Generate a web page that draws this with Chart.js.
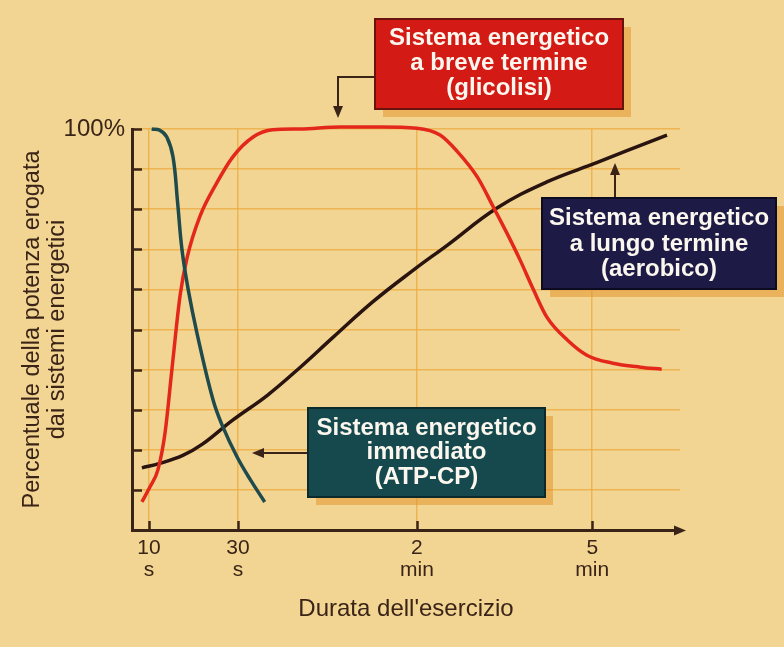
<!DOCTYPE html>
<html>
<head>
<meta charset="utf-8">
<script src="https://cdn.jsdelivr.net/npm/chart.js@4.4.0/dist/chart.umd.min.js"></script>
<style>
html,body{margin:0;padding:0;background:#f2d592;}
#wrap{width:784px;height:647px;}
</style>
</head>
<body>
<div id="wrap"><canvas id="c" width="784" height="647"></canvas></div>
<script>
// ---- data (x in axis position units: 10 s = 1, 30 s = 2, 2 min ≈ 4, 5 min ≈ 6) ----
const xTickPositions = [1, 2, 4.01, 5.98];
const xTickLabels = [["10", "s"], ["30", "s"], ["2", "min"], ["5", "min"]];
const yTickLabelTop = "100%";

const atpX = [1.03, 1.12, 1.20, 1.27, 1.32, 1.37, 1.44, 1.54, 1.72, 1.83, 1.99, 2.14, 2.30];
const atpY = [100, 99.7, 98, 93, 82, 70, 60, 49, 32.4, 25.7, 18.2, 12.5, 7];

const glyX = [0.92, 1.01, 1.10, 1.18, 1.26, 1.35, 1.43, 1.57, 1.76, 1.94, 2.17, 2.39, 2.70, 3.15, 3.60, 4.01, 4.27, 4.46, 4.69, 4.87, 5.02, 5.17, 5.32, 5.47, 5.70, 5.92, 6.21, 6.52, 6.76];
const glyY = [7, 10.7, 15, 24.2, 40.6, 58.6, 68.1, 78.1, 86.5, 93, 98, 99.8, 100, 100.5, 100.5, 100.2, 98.5, 94.5, 88, 80.5, 74.1, 67.3, 59.9, 53.1, 47.4, 43.6, 41.6, 40.6, 40.1];

const aerX = [0.92, 1.12, 1.38, 1.60, 1.94, 2.33, 2.70, 3.07, 3.52, 3.97, 4.35, 4.91, 5.47, 6.03, 6.37, 6.82];
const aerY = [15.5, 16.6, 18.6, 21.4, 27.4, 33.6, 40.6, 48.1, 57.0, 64.8, 71.0, 80.3, 86.8, 91.6, 94.6, 98.5];

const yTitle = ["Percentuale della potenza erogata", "dai sistemi energetici"];
const xTitle = "Durata dell'esercizio";
const boxGly = ["Sistema energetico", "a breve termine", "(glicolisi)"];
const boxAer = ["Sistema energetico", "a lungo termine", "(aerobico)"];
const boxAtp = ["Sistema energetico", "immediato", "(ATP-CP)"];

const FONT = "'Liberation Sans', Arial, Helvetica, sans-serif";
const INK = "#3a2417";

function pts(xs, ys) { return xs.map((x, i) => ({ x: x, y: ys[i] })); }

const bgPlugin = {
  id: 'bg',
  beforeDraw(chart) {
    const ctx = chart.ctx;
    ctx.save();
    ctx.fillStyle = '#f2d592';
    ctx.fillRect(0, 0, chart.width, chart.height);
    ctx.restore();
  }
};

function arrowHead(ctx, x, y, dir) {
  const L = 12, W = 5;
  ctx.beginPath();
  if (dir === 'down') { ctx.moveTo(x, y); ctx.lineTo(x - W, y - L); ctx.lineTo(x + W, y - L); }
  if (dir === 'up') { ctx.moveTo(x, y); ctx.lineTo(x - W, y + L); ctx.lineTo(x + W, y + L); }
  if (dir === 'left') { ctx.moveTo(x, y); ctx.lineTo(x + L, y - W); ctx.lineTo(x + L, y + W); }
  if (dir === 'right') { ctx.moveTo(x, y); ctx.lineTo(x - L, y - W); ctx.lineTo(x - L, y + W); }
  ctx.closePath();
  ctx.fill();
}

function drawBox(ctx, x0, y0, x1, y1, fill, border, lines, lineYs) {
  ctx.save();
  ctx.fillStyle = 'rgba(226,150,45,0.55)';
  ctx.fillRect(x0 + 8, y0 + 8, x1 - x0, y1 - y0);
  ctx.fillStyle = fill;
  ctx.fillRect(x0, y0, x1 - x0, y1 - y0);
  ctx.strokeStyle = border;
  ctx.lineWidth = 2;
  ctx.strokeRect(x0, y0, x1 - x0, y1 - y0);
  ctx.fillStyle = '#fbf6ee';
  ctx.font = "bold 24px " + FONT;
  ctx.textAlign = 'center';
  ctx.textBaseline = 'middle';
  const cx = (x0 + x1) / 2;
  lines.forEach((t, i) => ctx.fillText(t, cx, lineYs[i]));
  ctx.restore();
}

const annoPlugin = {
  id: 'anno',
  afterDraw(chart) {
    const ctx = chart.ctx;
    const xs = chart.scales.x, ys = chart.scales.y;
    const ca = chart.chartArea;
    ctx.save();
    ctx.strokeStyle = INK;
    ctx.fillStyle = INK;
    ctx.lineWidth = 2.5;
    for (let v = 10; v <= 100; v += 10) {
      const py = Math.round(ys.getPixelForValue(v)) + 0.5;
      ctx.beginPath(); ctx.moveTo(ca.left, py); ctx.lineTo(ca.left + 10, py); ctx.stroke();
    }
    xTickPositions.forEach(v => {
      const px = Math.round(xs.getPixelForValue(v)) + 0.5;
      ctx.beginPath(); ctx.moveTo(px, ca.bottom); ctx.lineTo(px, ca.bottom - 9); ctx.stroke();
    });
    ctx.beginPath(); ctx.moveTo(ca.right - 4, ca.bottom + 0.5); ctx.lineTo(ca.right + 2, ca.bottom + 0.5); ctx.stroke();
    arrowHead(ctx, ca.right + 6, ca.bottom + 0.5, 'right');

    ctx.lineWidth = 2;
    ctx.beginPath(); ctx.moveTo(375, 77); ctx.lineTo(338, 77); ctx.lineTo(338, 108); ctx.stroke();
    arrowHead(ctx, 338, 118, 'down');
    ctx.beginPath(); ctx.moveTo(615, 198); ctx.lineTo(615, 172); ctx.stroke();
    arrowHead(ctx, 615, 163, 'up');
    ctx.beginPath(); ctx.moveTo(308, 453); ctx.lineTo(262, 453); ctx.stroke();
    arrowHead(ctx, 252, 453, 'left');
    ctx.restore();

    drawBox(ctx, 375, 19, 623, 109, '#d41a15', '#6a120e', boxGly, [38, 63, 88]);
    drawBox(ctx, 542, 198, 776, 289, '#1d1b46', '#0c0b22', boxAer, [218, 244, 269]);
    drawBox(ctx, 308, 408, 545, 497, '#16494d', '#0b2a2c', boxAtp, [428, 452, 477]);
  }
};

new Chart(document.getElementById('c'), {
  type: 'line',
  data: {
    datasets: [
      { data: pts(atpX, atpY), borderColor: '#1f4b4d', clip: false, tension: 0.4, cubicInterpolationMode: 'default' },
      { data: pts(glyX, glyY), borderColor: '#e3281b', clip: false, cubicInterpolationMode: 'monotone' },
      { data: pts(aerX, aerY), borderColor: '#2a1410', clip: false, tension: 0.4, cubicInterpolationMode: 'default' }
    ]
  },
  options: {
    responsive: false,
    animation: false,
    devicePixelRatio: 1,
    layout: { padding: { top: 129, right: 104, left: 0, bottom: 0 } },
    plugins: { legend: { display: false }, tooltip: { enabled: false } },
    elements: {
      point: { radius: 0 },
      line: { borderWidth: 3.5, fill: false }
    },
    scales: {
      x: {
        type: 'linear',
        min: 0.809,
        max: 6.966,
        afterBuildTicks(s) { s.ticks = xTickPositions.map(v => ({ value: v })); },
        afterFit(s) { s.height = 117; },
        ticks: {
          callback: (v, i) => xTickLabels[i],
          font: { family: FONT, size: 21, lineHeight: 1.05 },
          color: INK,
          padding: 7,
          maxRotation: 0,
          autoSkip: false
        },
        grid: { color: 'rgba(236,168,60,0.75)', lineWidth: 1.5, drawTicks: false },
        border: { display: true, color: INK, width: 3 },
        title: {
          display: true, text: xTitle, color: INK,
          font: { family: FONT, size: 24 }, padding: { top: 0, bottom: 23 }
        }
      },
      y: {
        min: 0,
        max: 100,
        afterFit(s) { s.width = 132; },
        ticks: {
          stepSize: 10,
          callback: v => (v === 100 ? yTickLabelTop : ''),
          font: { family: FONT, size: 24 },
          color: INK,
          padding: 7
        },
        grid: { color: 'rgba(236,168,60,0.75)', lineWidth: 1.5, drawTicks: false },
        border: { display: true, color: INK, width: 3 },
        title: {
          display: true, text: yTitle, color: INK,
          font: { family: FONT, size: 23.5, lineHeight: 1.06 }, padding: { top: 20, bottom: 0 }
        }
      }
    }
  },
  plugins: [bgPlugin, annoPlugin]
});
</script>
</body>
</html>
